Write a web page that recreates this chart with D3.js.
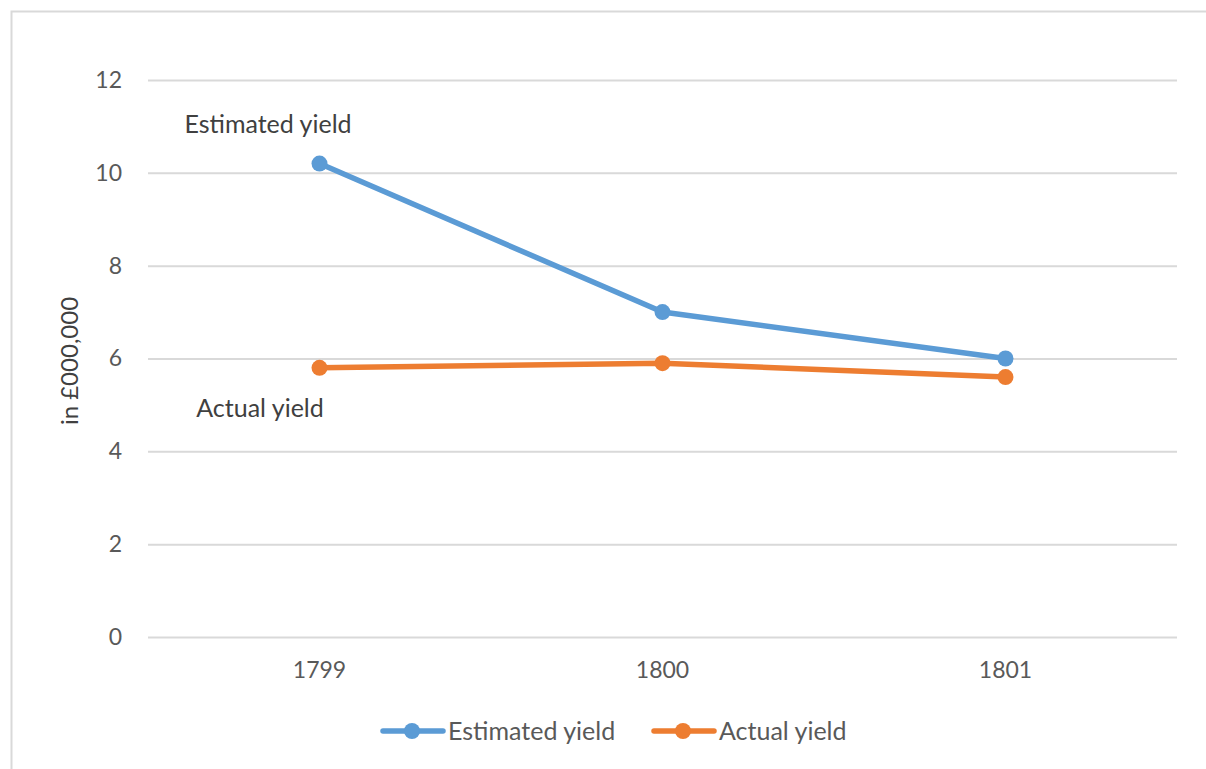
<!DOCTYPE html>
<html>
<head>
<meta charset="utf-8">
<script src="https://cdn.jsdelivr.net/npm/d3@7"></script>
<style>
  body { margin: 0; background: #fff; }
  svg { display: block; font-family: Lato, 'Open Sans', sans-serif; }
</style>
</head>
<body>
<svg id="chart" width="1206" height="769"></svg>
<script>
const years = ['1799', '1800', '1801']
const estimated = [10.2, 7.0, 6.0]
const actual = [5.8, 5.9, 5.6]
const yTicks = [0, 2, 4, 6, 8, 10, 12]

const series = [
  { name: 'Estimated yield', values: estimated, color: '#5b9bd5' },
  { name: 'Actual yield', values: actual, color: '#ed7d31' }
]

const svg = d3.select('#chart')

// chart frame (runs off the right/bottom edge like the screenshot)
svg.append('rect')
  .attr('x', 11.5).attr('y', 11.5)
  .attr('width', 1240).attr('height', 800)
  .attr('fill', 'none')
  .attr('stroke', '#d9d9d9')
  .attr('stroke-width', 2)

const plot = { left: 148, right: 1177, top: 80, bottom: 637 }

const x = d3.scaleBand()
  .domain(years)
  .range([plot.left, plot.right])

const y = d3.scaleLinear()
  .domain([0, 12])
  .range([plot.bottom, plot.top])

const g = svg.append('g')

// gridlines + y labels
const yAxis = d3.axisLeft(y)
  .tickValues(yTicks)
  .tickSize(-(plot.right - plot.left))
  .tickPadding(26)

g.append('g')
  .attr('transform', `translate(${plot.left},0)`)
  .call(yAxis)
  .call(a => a.select('.domain').remove())
  .call(a => a.selectAll('line').attr('stroke', '#d9d9d9').attr('stroke-width', 2))
  .call(a => a.selectAll('text')
    .attr('fill', '#595959')
    .attr('font-size', 23)
    .attr('font-family', 'Lato, sans-serif'))

// x labels
const xAxis = d3.axisBottom(x).tickSize(0).tickPadding(25)
g.append('g')
  .attr('transform', `translate(0,${plot.bottom})`)
  .call(xAxis)
  .call(a => a.select('.domain').remove())
  .call(a => a.selectAll('text')
    .attr('fill', '#595959')
    .attr('font-size', 23)
    .attr('font-family', 'Lato, sans-serif'))

// y title
svg.append('text')
  .attr('transform', `translate(78,361) rotate(-90)`)
  .attr('text-anchor', 'middle')
  .attr('fill', '#404040')
  .attr('font-size', 24)
  .text('in £000,000')

const line = d3.line()
  .x((d, i) => x(years[i]) + x.bandwidth() / 2)
  .y(d => y(d))

series.forEach(s => {
  const sg = g.append('g')
  sg.append('path')
    .datum(s.values)
    .attr('d', line)
    .attr('fill', 'none')
    .attr('stroke', s.color)
    .attr('stroke-width', 5.5)
    .attr('stroke-linecap', 'round')
    .attr('stroke-linejoin', 'round')
  sg.selectAll('circle')
    .data(s.values)
    .enter().append('circle')
    .attr('cx', (d, i) => x(years[i]) + x.bandwidth() / 2)
    .attr('cy', d => y(d))
    .attr('r', 8)
    .attr('fill', s.color)
})

// series labels
svg.append('text')
  .attr('x', 268).attr('y', 133)
  .attr('text-anchor', 'middle')
  .attr('fill', '#404040')
  .attr('font-size', 25)
  .text(series[0].name)

svg.append('text')
  .attr('x', 260).attr('y', 417)
  .attr('text-anchor', 'middle')
  .attr('fill', '#404040')
  .attr('font-size', 25)
  .text(series[1].name)

// legend
const legendItems = [
  { s: series[0], x0: 381 },
  { s: series[1], x0: 652 }
]
const lg = svg.append('g')
legendItems.forEach(d => {
  const item = lg.append('g').attr('transform', `translate(${d.x0},731)`)
  item.append('line')
    .attr('x1', 2).attr('x2', 62)
    .attr('stroke', d.s.color)
    .attr('stroke-width', 5.5)
    .attr('stroke-linecap', 'round')
  item.append('circle')
    .attr('cx', 31).attr('r', 8)
    .attr('fill', d.s.color)
  item.append('text')
    .attr('x', 67).attr('dy', '0.35em')
    .attr('fill', '#595959')
    .attr('font-size', 25)
    .text(d.s.name)
})
</script>
</body>
</html>
